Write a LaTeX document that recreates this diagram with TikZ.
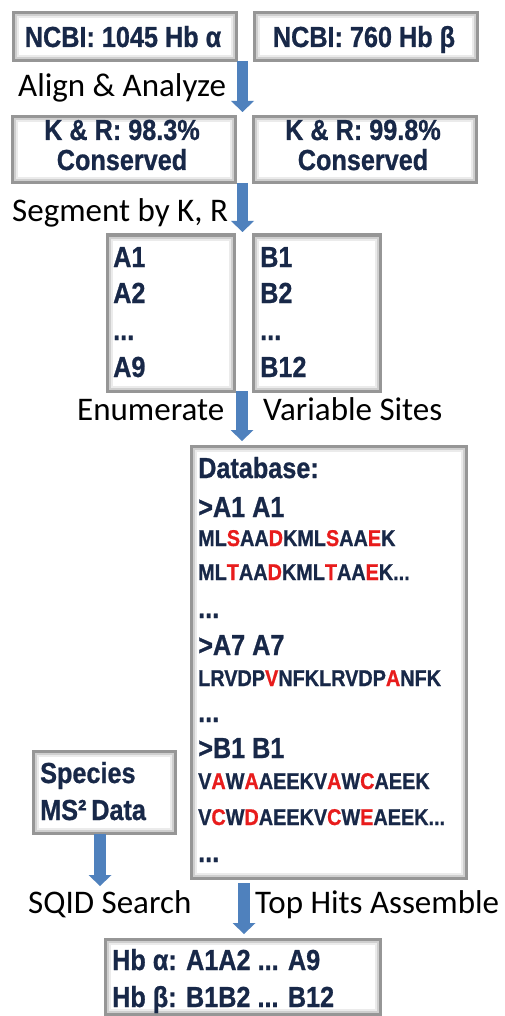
\documentclass[tikz,border=0pt]{standalone}
\usepackage{fontspec}
\setmainfont{Carlito}
\newfontfamily\bx[FakeStretch=0.87,FakeBold=0.8]{Liberation Sans Bold}
\usetikzlibrary{arrows.meta,calc}
\definecolor{navy}{RGB}{24,40,72}
\definecolor{hl}{RGB}{232,28,28}
\definecolor{arrowblue}{RGB}{79,129,189}
\definecolor{boxgray}{RGB}{150,150,150}
\newcommand\hlt[1]{\textcolor{hl}{#1}}
\begin{document}
\begin{tikzpicture}[x=1pt,y=-1pt,
  box/.style={draw=boxgray, line width=3pt, fill=white, inner sep=0pt, anchor=north west,
    path picture={
      \draw[gray!38, line width=2pt] ([shift={(2.5pt,-2.5pt)}]path picture bounding box.north west) rectangle ([shift={(-2.5pt,2.5pt)}]path picture bounding box.south east);
      \draw[gray!16, line width=2pt] ([shift={(4.5pt,-4.5pt)}]path picture bounding box.north west) rectangle ([shift={(-4.5pt,4.5pt)}]path picture bounding box.south east);
    }},
  flow/.style={draw=arrowblue, line width=11.5pt, -{Triangle[width=23pt,length=11pt,line width=0pt]}},
  lbl/.style={anchor=base west, inner sep=0pt, font=\fontsize{33}{36}\selectfont},
  hdr/.style={anchor=base west, inner sep=0pt, text=navy, font=\bx\fontsize{29}{31}\selectfont},
  hdrc/.style={hdr, anchor=base},
  seq/.style={anchor=base west, inner sep=0pt, text=navy, font=\bx\fontsize{22.8}{24}\selectfont}]
\useasboundingbox[fill=white] (0,0) rectangle (504,1016);

% boxes
\node[box, minimum width=223pt, minimum height=48pt] (ncbia) at (11.5,11.5) {};
\node[box, minimum width=223pt, minimum height=48pt] (ncbib) at (252.5,11.5) {};
\node[box, minimum width=223pt, minimum height=66pt] (kra) at (10.5,115.5) {};
\node[box, minimum width=223pt, minimum height=66pt] (krb) at (251.5,115.5) {};
\node[box, minimum width=127pt, minimum height=156pt] (segA) at (105.5,233.5) {};
\node[box, minimum width=127pt, minimum height=156pt] (segB) at (251.5,233.5) {};
\node[box, minimum width=275pt, minimum height=432pt] (db) at (189.5,444.5) {};
\node[box, minimum width=142pt, minimum height=82pt] (ms) at (31.5,749.5) {};
\node[box, minimum width=275pt, minimum height=75pt] (res) at (103.5,937.5) {};

% texts in boxes
\node[hdrc] (tA) at (123,47) {NCBI: 1045 Hb α};
\node[hdrc] (tB) at (364,47) {NCBI: 760 Hb β};
\node[hdrc] (kA1) at (122,140) {K \& R: 98.3\%};
\node[hdrc] (kA2) at (122,170) {Conserved};
\node[hdrc] (kB1) at (363,140) {K \& R: 99.8\%};
\node[hdrc] (kB2) at (363,170) {Conserved};

\node[hdr] (a1) at (113,267) {A1};
\node[hdr] (a2) at (113,303) {A2};
\node[hdr] (ad) at (113,340) {...};
\node[hdr] (a9) at (113,377) {A9};
\node[hdr] (b1) at (260,267) {B1};
\node[hdr] (b2) at (260,303) {B2};
\node[hdr] (bd) at (260,340) {...};
\node[hdr] (b12) at (260,377) {B12};

\node[hdr] (dbh) at (198,478) {Database:};
\node[hdr] (dA1) at (198,517) {>A1 A1};
\node[seq] (s1) at (198,546) {ML\hlt{S}AA\hlt{D}KML\hlt{S}AA\hlt{E}K};
\node[seq] (s2) at (198,580) {ML\hlt{T}AA\hlt{D}KML\hlt{T}AA\hlt{E}K...};
\node[hdr] (dd1) at (198,618) {...};
\node[hdr] (dA7) at (198,655) {>A7 A7};
\node[seq] (s3) at (198,686) {LRVDP\hlt{V}NFKLRVDP\hlt{A}NFK};
\node[hdr] (dd2) at (198,722) {...};
\node[hdr] (dB1) at (198,758) {>B1 B1};
\node[seq] (s4) at (198,789) {V\hlt{A}W\hlt{A}AEEKV\hlt{A}W\hlt{C}AEEK};
\node[seq] (s5) at (198,825) {V\hlt{C}W\hlt{D}AEEKV\hlt{C}W\hlt{E}AEEK...};
\node[hdr] (dd3) at (198,862) {...};

\node[hdr] (sp1) at (40,783) {Species};
\node[hdr] (sp2) at (40,820) {MS²\,Data};

\node[hdr] (r1) at (112,970) {Hb α: A1A2 ... A9};
\node[hdr] (r2) at (112,1007) {Hb β: B1B2 ... B12};

% plain labels
\node[lbl] (l1) at (18,97) {Align \& Analyze};
\node[lbl] (l2) at (12,222) {Segment by K, R};
\node[lbl] (l3) at (77,420) {Enumerate};
\node[lbl] (l4) at (263,420) {Variable Sites};
\node[lbl] (l5) at (28,913) {SQID Search};
\node[lbl] (l6) at (255,913) {Top Hits Assemble};

% connector end points
\coordinate (f1s) at (242.5,61);  \coordinate (f1e) at (242.5,112);
\coordinate (f2s) at (242.5,183); \coordinate (f2e) at (242.5,232);
\coordinate (f3s) at (242,391);   \coordinate (f3e) at (242,441);
\coordinate (f4s) at (244,883);   \coordinate (f4e) at (244,934);
\coordinate (f5s) at (100,834);   \coordinate (f5e) at (100,886);

\draw[flow] (f1s) -- (f1e);
\draw[flow] (f2s) -- (f2e);
\draw[flow] (f3s) -- (f3e);
\draw[flow] (f4s) -- (f4e);
\draw[flow] (f5s) -- (f5e);
\end{tikzpicture}
\end{document}
